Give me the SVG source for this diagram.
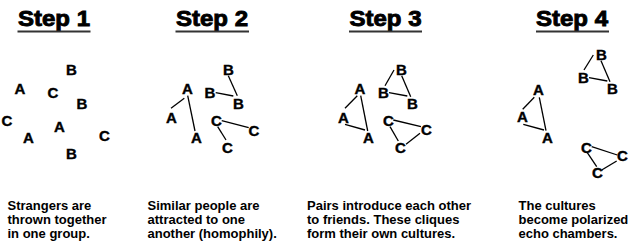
<svg xmlns="http://www.w3.org/2000/svg" width="640" height="250" viewBox="0 0 640 250">
<style>
.title{font-family:"Liberation Sans",Arial,sans-serif;font-weight:bold;font-size:22px;fill:#000;stroke:#000;stroke-width:0.9px}
.ul{stroke:#333;stroke-width:2.2}
.n{font-family:"Liberation Sans",Arial,sans-serif;font-weight:bold;font-size:15px;fill:#000;stroke:#000;stroke-width:0.4px;text-anchor:middle}
.cap{font-family:"Liberation Sans",Arial,sans-serif;font-weight:bold;font-size:13px;fill:#000}
.e{stroke:#000;stroke-width:1.3;fill:none}
</style>
<rect width="640" height="250" fill="#fff"/>
<g id="titles">
<text class="title" x="18" y="26" textLength="72" lengthAdjust="spacingAndGlyphs">Step 1</text>
<line class="ul" x1="17.5" y1="31.5" x2="90.5" y2="31.5"/>
<text class="title" x="176" y="26" textLength="72" lengthAdjust="spacingAndGlyphs">Step 2</text>
<line class="ul" x1="175.5" y1="31.5" x2="249" y2="31.5"/>
<text class="title" x="349.5" y="26" textLength="72" lengthAdjust="spacingAndGlyphs">Step 3</text>
<line class="ul" x1="349" y1="31.5" x2="422" y2="31.5"/>
<text class="title" x="536" y="26" textLength="72" lengthAdjust="spacingAndGlyphs">Step 4</text>
<line class="ul" x1="536" y1="31.5" x2="609" y2="31.5"/>
</g>
<g id="connectors">
<line class="e" x1="184.3" y1="98.3" x2="171" y2="108.3"/>
<line class="e" x1="187.7" y1="95.7" x2="195" y2="131"/>
<line class="e" x1="228.3" y1="75.7" x2="237.3" y2="95.7"/>
<line class="e" x1="215.7" y1="92.7" x2="233.3" y2="96"/>
<line class="e" x1="221.7" y1="120.7" x2="248.7" y2="127.7"/>
<line class="e" x1="217.7" y1="126.7" x2="226" y2="140"/>
<line class="e" x1="357.3" y1="95.7" x2="345" y2="108.3"/>
<line class="e" x1="360.7" y1="95.7" x2="367.7" y2="131"/>
<line class="e" x1="345" y1="124.3" x2="365" y2="130"/>
<line class="e" x1="394" y1="70" x2="385" y2="85.7"/>
<line class="e" x1="401.7" y1="75.7" x2="410.7" y2="96.7"/>
<line class="e" x1="389" y1="92.7" x2="407.3" y2="96"/>
<line class="e" x1="393.3" y1="120" x2="421" y2="126.7"/>
<line class="e" x1="390" y1="126.7" x2="398.3" y2="141"/>
<line class="e" x1="420" y1="133.3" x2="406" y2="144.3"/>
<line class="e" x1="534.3" y1="97.3" x2="522.7" y2="109.3"/>
<line class="e" x1="539.3" y1="97.3" x2="546" y2="130.7"/>
<line class="e" x1="523.3" y1="124.3" x2="544" y2="130"/>
<line class="e" x1="593.3" y1="55" x2="584" y2="70"/>
<line class="e" x1="601" y1="60.7" x2="610" y2="81.7"/>
<line class="e" x1="589" y1="77.7" x2="607.3" y2="81"/>
<line class="e" x1="591.7" y1="146.7" x2="617.3" y2="155"/>
<line class="e" x1="587.3" y1="152.7" x2="596.7" y2="166.7"/>
<line class="e" x1="616.7" y1="161" x2="601.7" y2="170"/>
</g>
<g id="s1-b1"><text class="n" x="71.5" y="75">B</text></g>
<g id="s1-a1"><text class="n" x="20" y="94">A</text></g>
<g id="s1-c1"><text class="n" x="53" y="98">C</text></g>
<g id="s1-b2"><text class="n" x="82" y="109">B</text></g>
<g id="s1-c2"><text class="n" x="7" y="126">C</text></g>
<g id="s1-a2"><text class="n" x="59.5" y="132">A</text></g>
<g id="s1-a3"><text class="n" x="28.5" y="143">A</text></g>
<g id="s1-c3"><text class="n" x="104.5" y="141">C</text></g>
<g id="s1-b3"><text class="n" x="71.5" y="159">B</text></g>
<g id="s2-b1"><text class="n" x="228.5" y="75">B</text></g>
<g id="s2-a1"><text class="n" x="187.5" y="94">A</text></g>
<g id="s2-b2"><text class="n" x="210" y="98">B</text></g>
<g id="s2-b3"><text class="n" x="238.5" y="109">B</text></g>
<g id="s2-a2"><text class="n" x="171.5" y="123">A</text></g>
<g id="s2-c1"><text class="n" x="216.5" y="126">C</text></g>
<g id="s2-c2"><text class="n" x="254" y="136">C</text></g>
<g id="s2-a3"><text class="n" x="196.5" y="143">A</text></g>
<g id="s2-c3"><text class="n" x="227.5" y="153">C</text></g>
<g id="s3-b1"><text class="n" x="401.5" y="75">B</text></g>
<g id="s3-a1"><text class="n" x="360" y="94">A</text></g>
<g id="s3-b2"><text class="n" x="383.5" y="98">B</text></g>
<g id="s3-b3"><text class="n" x="412.5" y="109">B</text></g>
<g id="s3-a2"><text class="n" x="343.5" y="123">A</text></g>
<g id="s3-c1"><text class="n" x="388.5" y="126">C</text></g>
<g id="s3-c2"><text class="n" x="426.5" y="135">C</text></g>
<g id="s3-a3"><text class="n" x="368.5" y="143">A</text></g>
<g id="s3-c3"><text class="n" x="400.5" y="153">C</text></g>
<g id="s4-b1"><text class="n" x="601.5" y="60">B</text></g>
<g id="s4-b2"><text class="n" x="583.5" y="83">B</text></g>
<g id="s4-b3"><text class="n" x="612.5" y="94">B</text></g>
<g id="s4-a1"><text class="n" x="538.5" y="95">A</text></g>
<g id="s4-a2"><text class="n" x="522.5" y="122">A</text></g>
<g id="s4-a3"><text class="n" x="547.5" y="143">A</text></g>
<g id="s4-c1"><text class="n" x="586.5" y="153">C</text></g>
<g id="s4-c2"><text class="n" x="622.5" y="161">C</text></g>
<g id="s4-c3"><text class="n" x="597.5" y="178">C</text></g>
<g id="captions">
<text class="cap" x="7.5" y="209.5">Strangers are</text>
<text class="cap" x="7.5" y="223.5">thrown together</text>
<text class="cap" x="7.5" y="237.5">in one group.</text>
<text class="cap" x="147.5" y="209.5">Similar people are</text>
<text class="cap" x="147.5" y="223.5">attracted to one</text>
<text class="cap" x="147.5" y="237.5">another (homophily).</text>
<text class="cap" x="307" y="209.5">Pairs introduce each other</text>
<text class="cap" x="307" y="223.5">to friends. These cliques</text>
<text class="cap" x="307" y="237.5">form their own cultures.</text>
<text class="cap" x="518.5" y="209.5">The cultures</text>
<text class="cap" x="518.5" y="223.5">become polarized</text>
<text class="cap" x="518.5" y="237.5">echo chambers.</text>
</g>
</svg>
